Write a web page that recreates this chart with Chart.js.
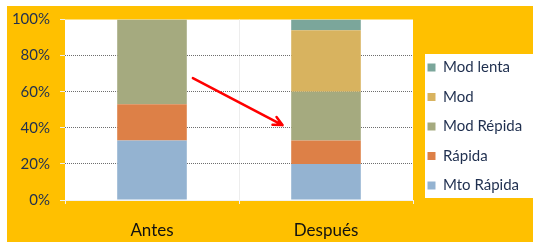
<!DOCTYPE html>
<html>
<head>
<meta charset="utf-8">
<script src="https://cdn.jsdelivr.net/npm/chart.js@4.4.1/dist/chart.umd.min.js"></script>
<style>
  html, body { margin: 0; padding: 0; background: #ffffff; width: 533px; height: 242px; overflow: hidden; }
  #wrap { position: absolute; left: 7px; top: 6px; width: 526px; height: 236px; background: #FFC000; }
  canvas { display: block; }
</style>
</head>
<body>
<div id="wrap"><canvas id="c" width="526" height="236"></canvas></div>
<script>
// ---- data ----
const categories = ['Antes', 'Después'];
const seriesNames = ['Mto Rápida', 'Rápida', 'Mod Répida', 'Mod', 'Mod lenta'];
const mtoRapida = [33, 20];
const rapida    = [20, 13];
const modRapida = [47, 27];
const mod       = [0, 34];
const modLenta  = [0, 6];
const yTicks = [0, 20, 40, 60, 80, 100];
// annotation arrow (category index, percent)
const arrowFrom = [0.235, 67.5];
const arrowTo   = [0.75, 41.5];

const colors = ['#94B3D1', '#DD8047', '#A5AA7F', '#D8B35F', '#7BA69B'];
const textColor = '#1F2F4F';
const values = [mtoRapida, rapida, modRapida, mod, modLenta];

const bgPlugin = {
  id: 'bgPlugin',
  beforeDraw(chart) {
    const {ctx, chartArea: a} = chart;
    ctx.save();
    ctx.fillStyle = '#ffffff';
    ctx.fillRect(a.left, a.top, a.right - a.left, a.bottom - a.top);
    const lg = chart.legend;
    if (lg && lg.legendHitBoxes && lg.legendHitBoxes.length) {
      const hb = lg.legendHitBoxes;
      const first = hb[0], last = hb[hb.length - 1];
      const x0 = a.right + 12;
      const y0 = first.top - 6;
      const y1 = last.top + last.height + 5;
      ctx.fillRect(x0, y0, chart.width - x0, y1 - y0);
    }
    ctx.restore();
  },
  afterDatasetsDraw(chart) {
    const {ctx, scales: {x, y}} = chart;
    const x0 = x.getPixelForValue(arrowFrom[0]), y0 = y.getPixelForValue(arrowFrom[1]);
    const x1 = x.getPixelForValue(arrowTo[0]),   y1 = y.getPixelForValue(arrowTo[1]);
    const ang = Math.atan2(y1 - y0, x1 - x0);
    ctx.save();
    ctx.strokeStyle = '#FF0000';
    ctx.lineWidth = 2.5;
    ctx.lineCap = 'round';
    ctx.lineJoin = 'round';
    ctx.beginPath();
    ctx.moveTo(x0, y0);
    ctx.lineTo(x1, y1);
    const L = 10, spread = 0.45;
    ctx.moveTo(x1 - L * Math.cos(ang - spread), y1 - L * Math.sin(ang - spread));
    ctx.lineTo(x1, y1);
    ctx.lineTo(x1 - L * Math.cos(ang + spread), y1 - L * Math.sin(ang + spread));
    ctx.stroke();
    ctx.restore();
  }
};

const chart = new Chart(document.getElementById('c'), {
  type: 'bar',
  data: {
    labels: categories,
    datasets: seriesNames.map((n, i) => ({
      label: n,
      data: values[i],
      backgroundColor: colors[i],
      borderWidth: 0,
      barPercentage: 0.4,
      categoryPercentage: 1.0
    }))
  },
  plugins: [bgPlugin],
  options: {
    responsive: false,
    animation: false,
    devicePixelRatio: 1,
    layout: { padding: { left: 5, right: 0, top: 8, bottom: 3 } },
    plugins: {
      tooltip: { enabled: false },
      legend: {
        position: 'right',
        reverse: true,
        labels: {
          boxWidth: 8,
          boxHeight: 8,
          padding: 14.5,
          color: textColor,
          font: { family: 'Lato', size: 15 }
        }
      }
    },
    scales: {
      x: {
        stacked: true,
        afterFit: (s) => { s.height = 39; },
        grid: {
          offset: true,
          color: (c) => c.index === 2 ? '#B9C8DA' : (c.index === 1 ? '#EDEDED' : 'rgba(0,0,0,0)'),
          tickColor: '#F2F2F2',
          tickLength: 4
        },
        border: { display: true, color: '#F2F2F2', width: 1 },
        ticks: { color: '#111111', padding: 16, font: { family: 'Lato', size: 17 } }
      },
      y: {
        stacked: true,
        min: 0,
        max: 100,
        afterFit: (s) => { s.width = 53; s.paddingTop = 13.5; s.paddingBottom = 0; },
        afterBuildTicks: (s) => { s.ticks = yTicks.map(v => ({ value: v })); },
        grid: {
          color: (c) => (c.tick && (c.tick.value === 0 || c.tick.value === 100)) ? 'rgba(0,0,0,0)' : '#6E6E6E',
          tickColor: '#EFEFEF',
          tickLength: 5,
          lineWidth: 1
        },
        border: { display: false, dash: [1, 1] },
        ticks: {
          color: textColor,
          padding: 10,
          font: { family: 'Lato', size: 15 },
          callback: (v) => v + '%'
        }
      }
    }
  }
});

// fix the legend box width as in the reference
const LEGEND_W = 120;
const lg = chart.legend;
const origFit = lg.fit.bind(lg);
lg.fit = function () { origFit(); this.width = LEGEND_W; };
chart.update();
</script>
</body>
</html>
